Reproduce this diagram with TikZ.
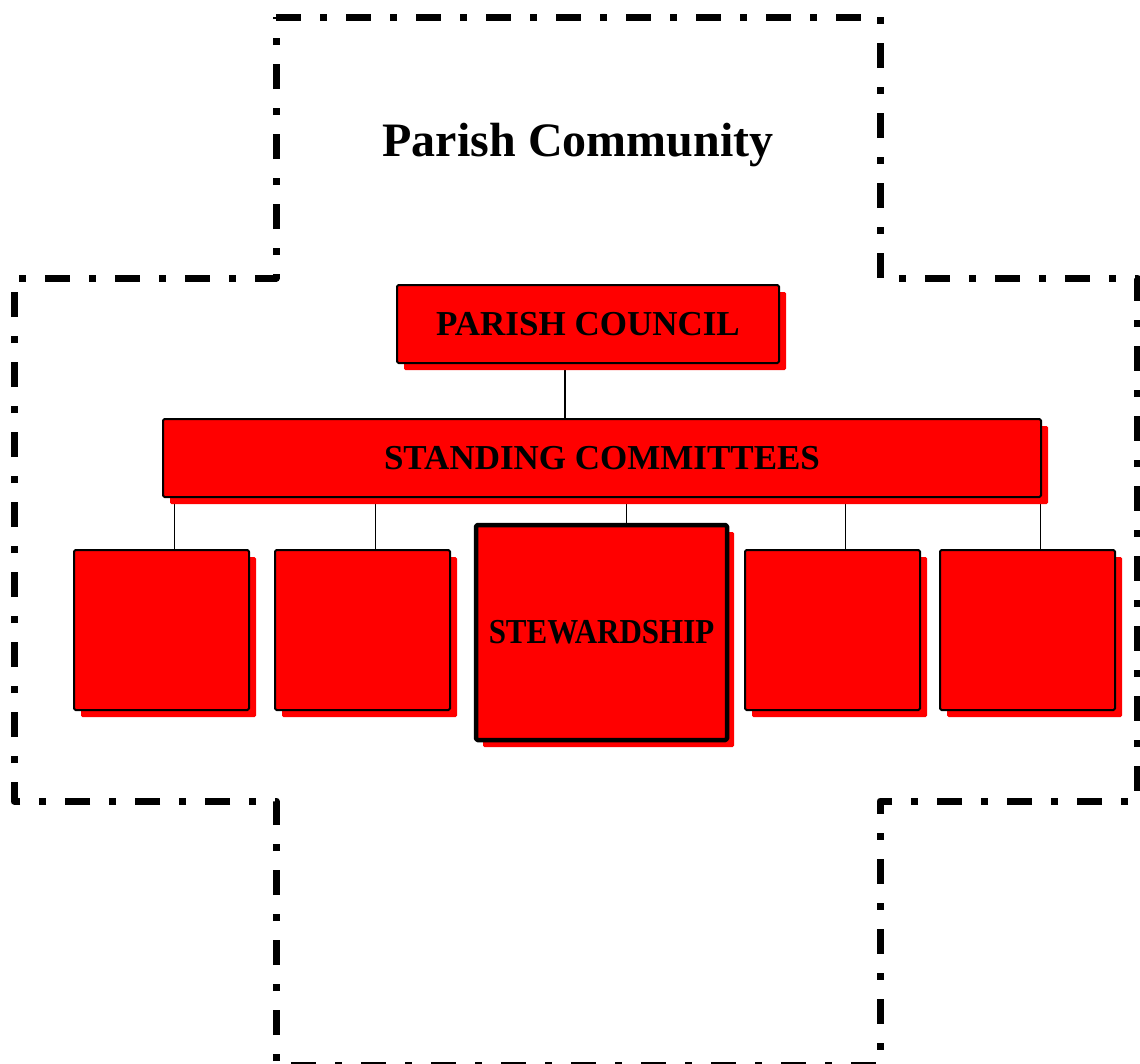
\documentclass[tikz,border=0pt]{standalone}
\usepackage{fontspec}
\setmainfont{Liberation Serif}
\usetikzlibrary{shadows,backgrounds}
\begin{document}
\begin{tikzpicture}[x=1pt,y=-1pt,line join=round,
	unit/.style={draw=black,line width=2pt,fill=red,rounded corners=1.5pt,inner sep=0pt,
		font=\fontsize{35}{40}\selectfont\bfseries,
		drop shadow={shadow xshift=7pt,shadow yshift=-7pt,fill=red,opacity=1}},
	link/.style={line width=1.8pt}]
	\useasboundingbox (0,0) rectangle (1140,1063);
	\draw[line width=7pt,dash pattern=on 25pt off 19pt on 7pt off 19pt]
		(276,17) -| (880,278) -| (1137,801) -| (880,1065) -| (276,801) -| (14,278) -- (276,278) -- cycle;
	\node[font=\fontsize{48}{56}\selectfont\bfseries] (title) at (578,145) {Parish Community};
	\node[unit,minimum width=382pt,minimum height=78pt] (council) at (588,324) {PARISH COUNCIL};
	\node[unit,minimum width=878pt,minimum height=78pt] (sc) at (602,458) {STANDING COMMITTEES};
	\foreach \n/\x in {c1/161.5,c2/362.5,c4/832.5,c5/1027.5}
		\node[unit,minimum width=175pt,minimum height=160pt] (\n) at (\x,630) {};
	\node[unit,line width=4.5pt,minimum width=251pt,minimum height=215pt] (stew) at (601.5,632.5)
		{\scalebox{0.885}[1]{STEWARDSHIP}};
	\begin{scope}[on background layer]
		\draw[link] ([xshift=-23pt]council.south) -- ([xshift=-23pt]council.south |- sc.north);
		\foreach \n/\d in {c1/13,c2/13,stew/25,c4/13,c5/13}
			\draw[link] ([xshift=\d pt]\n.north) -- ([xshift=\d pt]\n.north |- sc.south);
	\end{scope}
\end{tikzpicture}
\end{document}
